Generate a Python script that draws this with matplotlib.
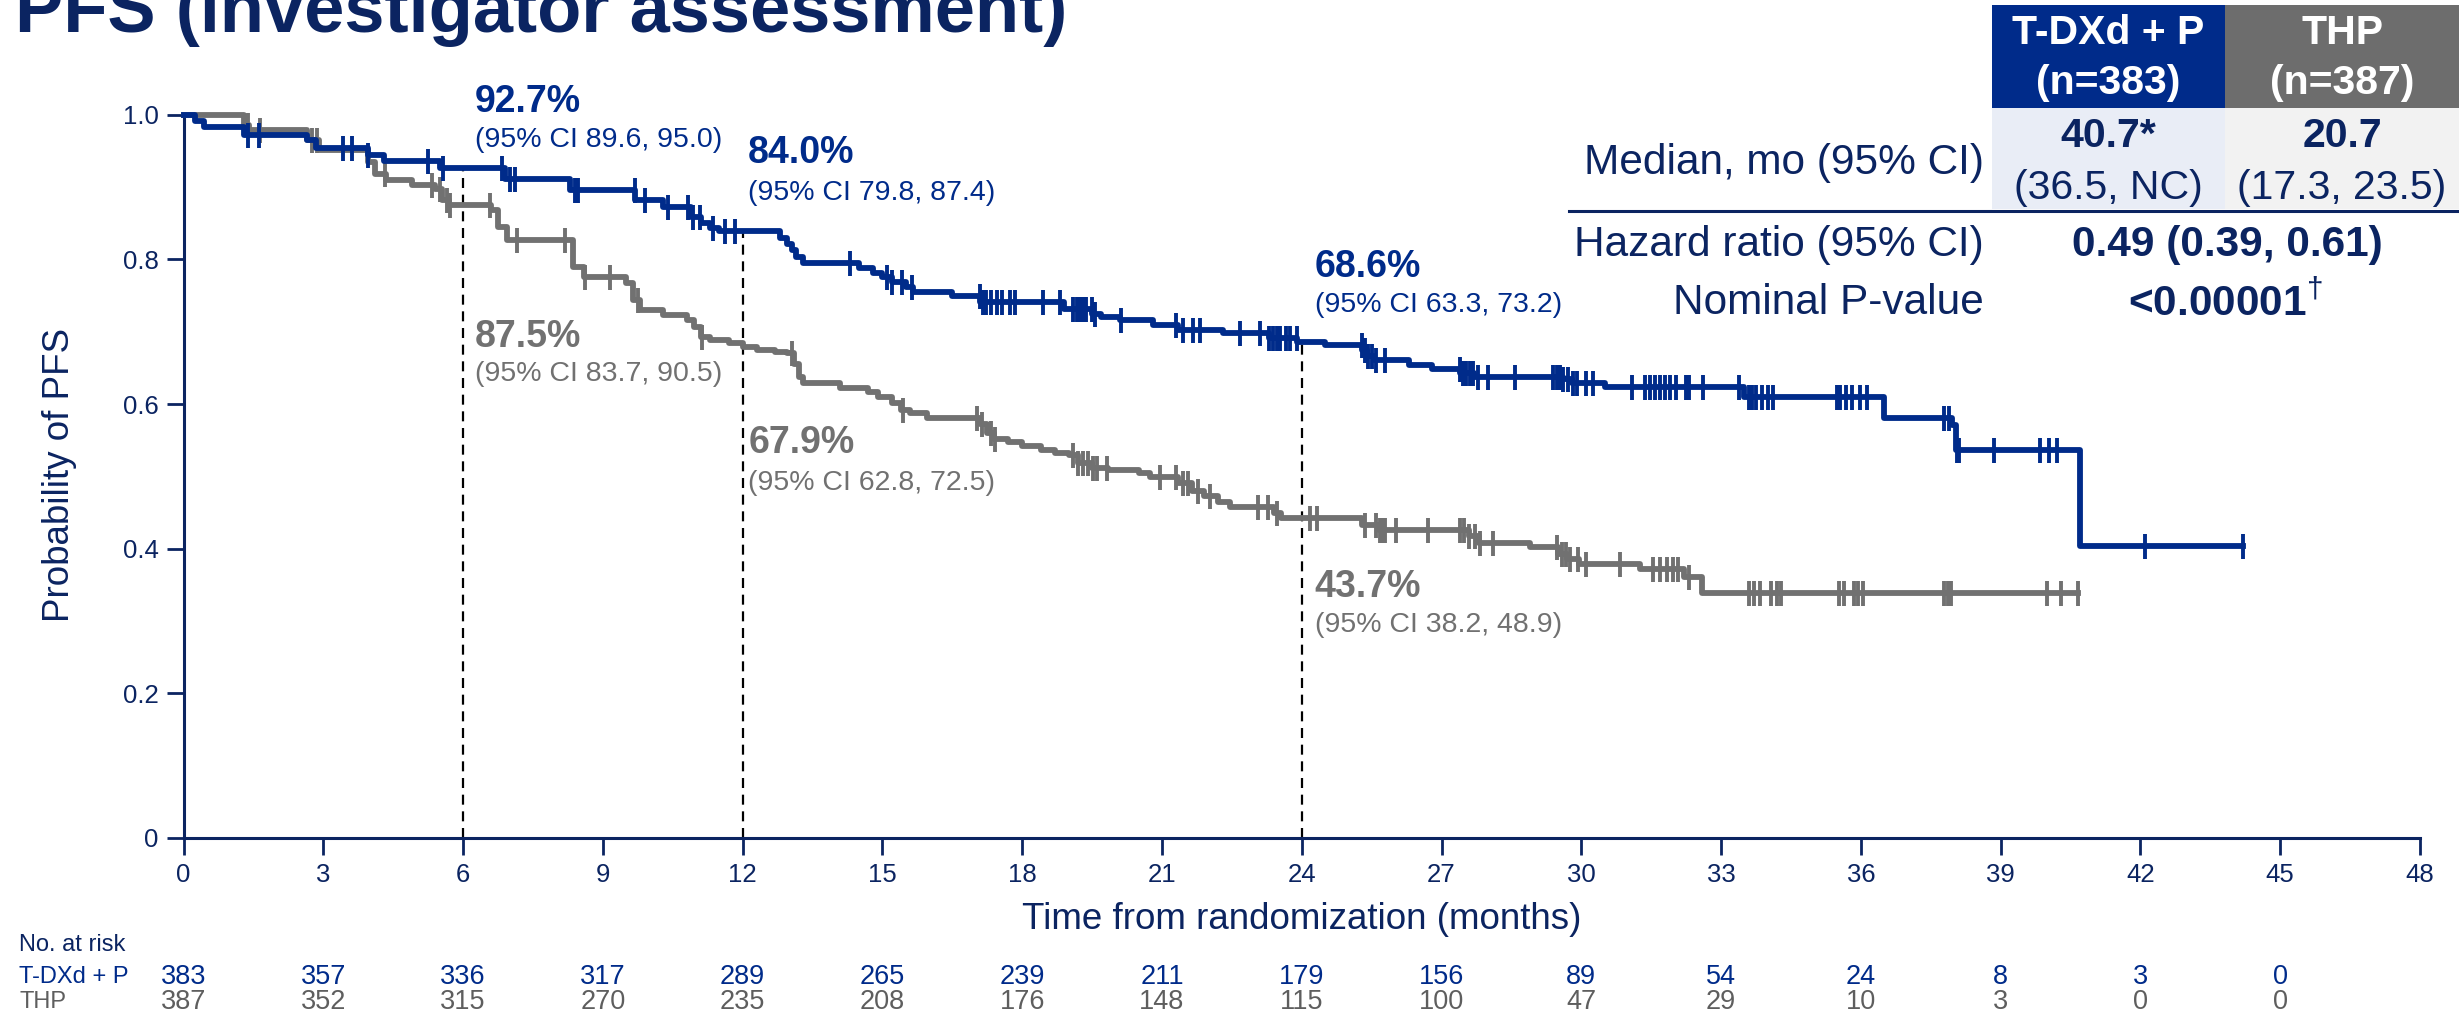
import numpy as np
import matplotlib
matplotlib.use('Agg')
import matplotlib.pyplot as plt
from matplotlib.patches import Rectangle
from matplotlib.transforms import blended_transform_factory

plt.rcParams['font.family'] = ['Liberation Sans', 'DejaVu Sans']
plt.rcParams['mathtext.fontset'] = 'custom'
plt.rcParams['mathtext.rm'] = 'Liberation Sans'
plt.rcParams['mathtext.bf'] = 'Liberation Sans:bold'

NAVY = '#0B2461'
BLUE = '#002B8A'
GRAY = '#717171'
GRAY_TXT = '#5E5E5E'

# ---- data ----
# T-DXd + P: KM steps (time in months, survival after the step)
tdxd_t = [0, 0.25, 0.45, 1.3, 2.65, 2.85, 3.95, 4.3, 5.5, 6.9, 8.3, 9.7, 10.3,
          10.9, 11.1, 11.3, 11.5, 12.8, 12.95, 13.05, 13.15, 13.3, 14.5, 14.8,
          15.0, 15.2, 15.5, 15.65, 16.5, 17.1, 18.9, 19.5, 19.7, 20.1, 20.8,
          21.35, 22.3, 23.3, 23.9, 24.5, 25.3, 25.4, 25.55, 26.3, 26.8, 27.4,
          27.7, 29.6, 29.8, 30.5, 33.5, 36.5, 37.95, 38.05, 40.7]
tdxd_s = [1.0, 0.992, 0.984, 0.972, 0.965, 0.955, 0.945, 0.937, 0.927, 0.912,
          0.896, 0.882, 0.873, 0.859, 0.850, 0.843, 0.840, 0.830, 0.822, 0.813,
          0.804, 0.795, 0.788, 0.781, 0.776, 0.769, 0.762, 0.755, 0.750, 0.741,
          0.732, 0.725, 0.720, 0.716, 0.710, 0.703, 0.698, 0.691, 0.686, 0.682,
          0.675, 0.666, 0.661, 0.654, 0.649, 0.643, 0.638, 0.634, 0.629, 0.624,
          0.610, 0.580, 0.571, 0.536, 0.403]
tdxd_end = 44.2
tdxd_cens = [1.39, 1.61, 3.43, 3.61, 3.97, 5.25, 5.58, 6.83, 7.0, 7.11, 8.4, 8.47,
             9.69, 9.9, 10.4, 10.83, 10.94, 11.08, 11.37, 11.62, 11.83, 14.3,
             15.09, 15.2, 15.41, 15.63, 17.09, 17.16, 17.23, 17.34, 17.45, 17.56,
             17.73, 17.84, 18.45, 18.81, 19.09, 19.17, 19.24, 19.31, 19.38, 19.49,
             19.56, 20.13, 21.3, 21.46, 21.67, 21.81, 22.67, 23.1, 23.3, 23.39,
             23.46, 23.53, 23.67, 23.74, 23.89, 25.29, 25.36, 25.43, 25.5, 25.6,
             25.78, 27.39, 27.46, 27.53, 27.61, 27.68, 27.78, 28.0, 28.57, 29.4,
             29.47, 29.54, 29.61, 29.72, 29.82, 29.9, 30.11, 30.26, 31.08, 31.37,
             31.47, 31.58, 31.69, 31.79, 31.9, 32.04, 32.24, 32.32, 32.61, 33.39,
             33.59, 33.67, 33.75, 33.88, 34.0, 34.12, 35.48, 35.56, 35.69, 35.81,
             35.98, 36.14, 37.78, 37.9, 38.06, 38.11, 38.85, 39.84, 40.04, 40.2,
             42.09, 44.2]

# THP: KM steps
thp_t = [0, 1.3, 1.4, 2.65, 2.9, 3.95, 4.1, 4.35, 4.9, 5.4, 5.55, 5.7, 6.6, 6.75,
         6.95, 8.35, 8.6, 9.5, 9.65, 9.8, 10.3, 10.8, 10.95, 11.1, 11.3, 11.7,
         12.0, 12.3, 12.7, 12.95, 13.1, 13.2, 13.3, 14.1, 14.7, 14.9, 15.2, 15.4,
         15.6, 15.95, 17.1, 17.25, 17.4, 17.7, 18.0, 18.4, 18.7, 19.0, 19.2, 19.5,
         19.85, 20.5, 20.75, 21.35, 21.65, 21.9, 22.2, 22.45, 23.4, 23.55, 25.3,
         25.65, 27.6, 27.8, 28.9, 29.5, 29.7, 29.95, 31.25, 32.2, 32.6]
thp_s = [1.0, 0.986, 0.979, 0.965, 0.952, 0.935, 0.919, 0.910, 0.903, 0.897,
         0.882, 0.875, 0.868, 0.845, 0.827, 0.790, 0.776, 0.767, 0.744, 0.730,
         0.723, 0.716, 0.707, 0.693, 0.689, 0.684, 0.679, 0.675, 0.672, 0.670,
         0.656, 0.638, 0.629, 0.622, 0.617, 0.610, 0.601, 0.592, 0.588, 0.581,
         0.572, 0.560, 0.551, 0.547, 0.542, 0.537, 0.532, 0.530, 0.518, 0.511,
         0.509, 0.504, 0.499, 0.490, 0.479, 0.472, 0.465, 0.458, 0.449, 0.442,
         0.433, 0.426, 0.417, 0.407, 0.402, 0.393, 0.386, 0.379, 0.372, 0.361,
         0.338]
thp_end = 40.65
thp_cens = [1.39, 1.64, 2.75, 2.86, 4.32, 5.33, 5.5, 5.65, 5.72, 6.58, 7.15, 8.19,
            8.62, 9.15, 9.76, 11.12, 13.05, 15.45, 17.02, 17.13, 17.34, 17.41,
            19.09, 19.2, 19.31, 19.42, 19.52, 19.6, 19.81, 20.96, 21.3, 21.46,
            21.56, 21.78, 22.03, 23.06, 23.28, 23.46, 24.17, 24.32, 25.36, 25.6,
            25.67, 25.74, 25.78, 26.03, 26.71, 27.39, 27.49, 27.6, 27.71, 27.82,
            28.1, 29.47, 29.58, 29.68, 29.75, 29.93, 30.11, 30.83, 31.54, 31.69,
            31.83, 31.97, 32.08, 32.32, 33.59, 33.71, 33.83, 34.08, 34.2, 34.29,
            35.52, 35.64, 35.85, 35.93, 36.05, 37.78, 37.86, 37.94, 40.0, 40.29,
            40.65]

landmark_months = [6, 12, 24]
tdxd_landmark_val = [0.927, 0.840, 0.686]
tdxd_landmark = ['92.7%', '84.0%', '68.6%']
tdxd_landmark_ci = ['(95% CI 89.6, 95.0)', '(95% CI 79.8, 87.4)', '(95% CI 63.3, 73.2)']
thp_landmark = ['87.5%', '67.9%', '43.7%']
thp_landmark_ci = ['(95% CI 83.7, 90.5)', '(95% CI 62.8, 72.5)', '(95% CI 38.2, 48.9)']

risk_months = list(range(0, 46, 3))
tdxd_risk = [383, 357, 336, 317, 289, 265, 239, 211, 179, 156, 89, 54, 24, 8, 3, 0]
thp_risk = [387, 352, 315, 270, 235, 208, 176, 148, 115, 100, 47, 29, 10, 3, 0, 0]

arms = ['T-DXd + P\n(n=383)', 'THP\n(n=387)']
medians = ['40.7*', '20.7']
median_ci = ['(36.5, NC)', '(17.3, 23.5)']
hazard_ratio = '0.49 (0.39, 0.61)'
p_value = '<0.00001$^{\\dagger}$'

# ---- figure ----
W, H = 2459, 1021
fig = plt.figure(figsize=(W / 100, H / 100), dpi=100)
ax = fig.add_axes([183.5 / W, 1 - 837.5 / H, 2236.5 / W, 722.5 / H])


def km(t, s, end, cens, color):
    t = np.append(t, end)
    s = np.append(s, s[-1])
    ax.step(t, s, where='post', color=color, lw=4.2, clip_on=False, zorder=3)
    idx = np.searchsorted(t, cens, side='right') - 1
    ax.plot(cens, s[idx], ls='none', marker='|', ms=18, mew=2.8,
            color=color, clip_on=False, zorder=3)


km(thp_t, thp_s, thp_end, thp_cens, GRAY)
km(tdxd_t, tdxd_s, tdxd_end, tdxd_cens, BLUE)

ax.vlines(landmark_months, 0, tdxd_landmark_val, colors='black', lw=1.6,
          linestyles=(0, (4.5, 3)), zorder=2)

ax.set_xlim(0, 48)
ax.set_ylim(0, 1.0)
ax.set_xticks(range(0, 49, 3))
ax.set_yticks([0, 0.2, 0.4, 0.6, 0.8, 1.0])
ax.set_yticklabels(['0', '0.2', '0.4', '0.6', '0.8', '1.0'])
ax.tick_params(direction='out', length=12, width=2, color=NAVY,
               labelcolor=NAVY, labelsize=18.5, pad=6)
for side in ['top', 'right']:
    ax.spines[side].set_visible(False)
for side in ['left', 'bottom']:
    ax.spines[side].set_color(NAVY)
    ax.spines[side].set_linewidth(2.2)

# landmark labels
tdxd_xy = [(6.26, 1.004, 0.965), (12.12, 0.933, 0.892), (24.28, 0.776, 0.737)]
thp_xy = [(6.26, 0.679, 0.641), (12.12, 0.532, 0.490), (24.28, 0.333, 0.294)]
for (x, yb, yc), big, ci in zip(tdxd_xy, tdxd_landmark, tdxd_landmark_ci):
    ax.text(x, yb, big, color=BLUE, fontsize=27, fontweight='bold', va='baseline')
    ax.text(x, yc, ci, color=BLUE, fontsize=20.5, va='center')
for (x, yb, yc), big, ci in zip(thp_xy, thp_landmark, thp_landmark_ci):
    ax.text(x, yb, big, color=GRAY, fontsize=27, fontweight='bold', va='baseline')
    ax.text(x, yc, ci, color=GRAY, fontsize=20.5, va='center')

# axis labels
ax.text(0.5, (837.5 - 919) / 722.5, 'Time from randomization (months)',
        transform=ax.transAxes, ha='center', va='center', fontsize=26.5, color=NAVY)
fig.text(60 / W, 1 - 475 / H, 'Probability of PFS', rotation=90,
         ha='center', va='center', fontsize=26.5, color=NAVY)

fig.text(15 / W, 1 - 32 / H, 'PFS (investigator assessment)', fontsize=52,
         fontweight='bold', color=NAVY, va='baseline', ha='left')

# number at risk
tr = blended_transform_factory(ax.transData, ax.transAxes)
trl = blended_transform_factory(fig.transFigure, ax.transAxes)
y_hdr = (837.5 - 945) / 722.5
y_a = (837.5 - 977) / 722.5
y_b = (837.5 - 1002) / 722.5
fig.text(19 / W, y_hdr, 'No. at risk', transform=trl, fontsize=17, color=NAVY, va='center')
fig.text(19 / W, y_a, 'T-DXd + P', transform=trl, fontsize=17, color=BLUE, va='center')
fig.text(19 / W, y_b, 'THP', transform=trl, fontsize=17, color=GRAY_TXT, va='center')
for m, a, b in zip(risk_months, tdxd_risk, thp_risk):
    ax.text(m, y_a, str(a), transform=tr, fontsize=19.5, color=BLUE, ha='center', va='center')
    ax.text(m, y_b, str(b), transform=tr, fontsize=19.5, color=GRAY_TXT, ha='center', va='center')

# summary table (pixel layout)
ov = fig.add_axes([0, 0, 1, 1], zorder=5)
ov.set_xlim(0, W)
ov.set_ylim(H, 0)
ov.axis('off')
cols = [(1992, 2225, BLUE, '#E9EDF6'), (2225, 2459, '#6D6D6D', '#F2F2F2')]
for (x0, x1, dark, light), arm, med, mci in zip(cols, arms, medians, median_ci):
    cx = (x0 + x1) / 2
    ov.add_patch(Rectangle((x0, 5), x1 - x0, 103, color=dark, lw=0))
    ov.add_patch(Rectangle((x0, 108), x1 - x0, 101, color=light, lw=0))
    l1, l2 = arm.split('\n')
    ov.text(cx, 33, l1, color='white', fontsize=29.5, fontweight='bold', ha='center', va='center')
    ov.text(cx, 83, l2, color='white', fontsize=29.5, fontweight='bold', ha='center', va='center')
    ov.text(cx, 136, med, color=NAVY, fontsize=29.5, fontweight='bold', ha='center', va='center')
    ov.text(cx, 188, mci, color=NAVY, fontsize=29.5, ha='center', va='center')
ov.plot([1569, 2459], [211, 211], color=NAVY, lw=2.2)
ov.text(1984, 163, 'Median, mo (95% CI)', color=NAVY, fontsize=30.5, ha='right', va='center')
ov.text(1984, 245, 'Hazard ratio (95% CI)', color=NAVY, fontsize=30.5, ha='right', va='center')
ov.text(2227, 245, hazard_ratio, color=NAVY, fontsize=30.5, fontweight='bold', ha='center', va='center')
ov.text(1984, 303, 'Nominal P-value', color=NAVY, fontsize=30.5, ha='right', va='center')
ov.text(2225, 303, p_value, color=NAVY, fontsize=30.5, fontweight='bold', ha='center', va='center')

fig.savefig('out.png', dpi=100)
